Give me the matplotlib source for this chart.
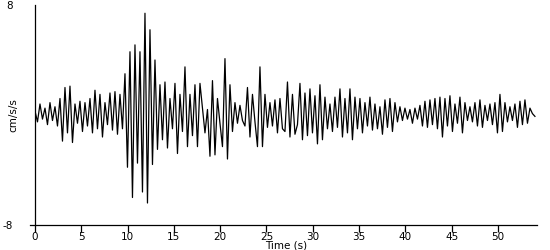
import numpy as np
import matplotlib
matplotlib.use('Agg')
import matplotlib.pyplot as plt

# acceleration record, one value every dt seconds
dt = 0.27
acc = [
    0.3, -0.5, 0.8, -0.3, 0.5, -0.7, 0.9, -0.4, 0.6, -0.8,
    1.2, -1.9, 2.0, -1.3, 2.1, -2.0, 0.8, -0.6, 1.0, -1.2,
    0.9, -0.8, 1.2, -1.3, 1.8, -1.0, 1.5, -1.6, 0.9, -0.7,
    1.6, -1.1, 1.7, -1.4, 1.5, -1.0, 3.0, -3.8, 4.6, -6.0,
    5.1, -3.5, 4.6, -5.6, 7.4, -6.4, 6.2, -3.6, 4.0, -2.5,
    2.2, -1.8, 2.4, -2.4, 1.2, -1.0, 2.3, -2.8, 1.5, -1.2,
    3.5, -2.3, 1.5, -1.5, 2.2, -2.3, 2.3, 0.5, -1.3, 0.4,
    -3.0, 2.5, -2.9, 1.2, -0.6, -2.3, 4.1, -3.2, 2.2, -1.2,
    0.9, -0.6, 0.7, -0.4, -0.8, 2.0, -1.6, 1.5, -0.5, -2.3,
    3.5, -2.3, 1.5, -0.9, 0.9, -0.8, 1.1, -1.3, 1.2, -1.0,
    -1.2, 2.4, -1.6, 1.5, -1.4, -0.7, 2.3, -1.8, 1.6, -1.5,
    1.9, -1.3, 1.4, -2.1, 2.2, -1.8, 1.3, -1.0, 0.8, -1.2,
    1.3, -0.9, 1.9, -1.6, 1.2, -1.3, 1.9, -1.8, 1.3, -1.0,
    1.2, -1.3, 0.9, -0.8, 1.3, -1.1, 0.8, -1.0, 0.6, -1.4,
    1.1, -0.9, 1.2, -1.2, 0.9, -0.5, 0.6, -0.4, 0.5, -0.3,
    0.4, -0.6, 0.5, -0.3, 0.7, -0.8, 1.0, -0.9, 1.1, -0.7,
    1.2, -1.0, 1.3, -1.6, 1.2, -0.8, 1.4, -1.2, 0.8, -0.6,
    1.3, -1.3, 0.9, -0.4, 0.6, -0.5, 0.9, -0.8, 1.1, -0.9,
    0.7, -0.4, 0.8, -0.7, 0.9, -1.3, 1.5, -1.2, 0.9, -0.5,
    0.6, -0.4, 0.8, -0.9, 1.0, -0.7, 1.1, -0.6, 0.5, 0.1,
    -0.1,
]
x_ticks = [0, 5, 10, 15, 20, 25, 30, 35, 40, 45, 50]
t_end = 54.2

t = np.arange(len(acc)) * dt

fig = plt.figure(figsize=(5.5, 2.5), dpi=100)
ax = fig.add_axes([0.0636, 0.1, 0.9124, 0.88])
ax.plot(t, acc, color='black', lw=0.9)

ax.set_xlim(0, t_end)
ax.set_ylim(-8, 8)
for s in ['top', 'right']:
    ax.spines[s].set_visible(False)
ax.spines['bottom'].set_bounds(-0.55, t_end)
ax.spines['left'].set_linewidth(0.9)
ax.spines['bottom'].set_linewidth(0.9)

ax.set_xticks(x_ticks)
ax.set_xticklabels([str(v) for v in x_ticks], fontsize=7.5)
ax.tick_params(axis='x', length=5, width=0.9, pad=0)
ax.set_yticks([-8, 8])
ax.set_yticklabels(['-8', '8'], fontsize=7.5)
ax.tick_params(axis='y', length=0, pad=16)
ax.set_xlabel('Time (s)', fontsize=7.5, labelpad=-1)
fig.text(13 / 550, 0.54, 'cm/s/s', rotation=90, ha='center', va='center',
         fontsize=7.5)

fig.savefig('out.png', dpi=100)
